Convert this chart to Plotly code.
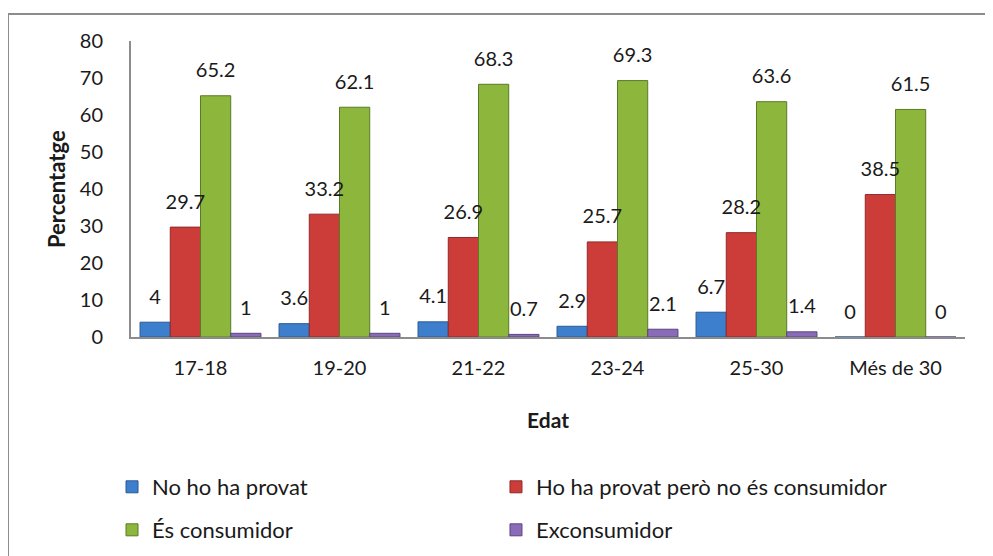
import plotly.graph_objects as go

edats = ["17-18", "19-20", "21-22", "23-24", "25-30", "Més de 30"]
no_provat = [4, 3.6, 4.1, 2.9, 6.7, 0]
provat_no_consumidor = [29.7, 33.2, 26.9, 25.7, 28.2, 38.5]
consumidor = [65.2, 62.1, 68.3, 69.3, 63.6, 61.5]
exconsumidor = [1, 1, 0.7, 2.1, 1.4, 0]

series = [
    ("No ho ha provat", no_provat, "#3d7fcc", "#2a5a94", "legend"),
    ("Ho ha provat però no és consumidor", provat_no_consumidor, "#cc3d3a", "#8f2a28", "legend2"),
    ("És consumidor", consumidor, "#8db63c", "#5c7a26", "legend3"),
    ("Exconsumidor", exconsumidor, "#8a6bb8", "#5a4580", "legend4"),
]

font = "Lato, Carlito, Calibri, sans-serif"

fig = go.Figure()
for name, vals, color, edge, leg in series:
    fig.add_trace(go.Bar(
        name=name, x=edats, y=vals,
        marker=dict(color=color, line=dict(color=edge, width=1)),
        legend=leg, showlegend=True,
    ))
# value labels, grouped the same way as the bars
for name, vals, color, edge, leg in series:
    fig.add_trace(go.Scatter(
        x=edats, y=vals, mode="markers+text",
        text=[f"{v:g}" for v in vals], textposition="top center",
        textfont=dict(size=20, color="#1a1a1a", family=font),
        marker=dict(size=20, opacity=0), cliponaxis=False,
        showlegend=False, hoverinfo="skip",
    ))

leg_font = dict(size=22, family=font, color="#1a1a1a")
leg_common = dict(xref="container", yref="container", xanchor="left",
                  yanchor="middle", font=leg_font, itemwidth=30)
fig.update_layout(
    width=985, height=548,
    barmode="group", bargap=0.13, bargroupgap=0,
    scattermode="group", scattergap=0.13,
    plot_bgcolor="white", paper_bgcolor="white",
    font=dict(family=font, size=17, color="#1a1a1a"),
    margin=dict(l=123, r=28, t=33, b=219, autoexpand=False),
    legend=dict(x=0.1056, y=0.1259, **leg_common),
    legend2=dict(x=0.4954, y=0.1259, **leg_common),
    legend3=dict(x=0.1056, y=0.0474, **leg_common),
    legend4=dict(x=0.4954, y=0.0474, **leg_common),
    showlegend=True,
)

fig.update_yaxes(
    range=[0, 80], dtick=10, showgrid=False, automargin=False,
    showline=True, linecolor="#8c8c8c", linewidth=2,
    ticks="outside", ticklen=22, tickcolor="rgba(0,0,0,0)",
    tickfont=dict(size=20),
)
fig.update_xaxes(
    showgrid=False, automargin=False,
    showline=True, linecolor="#8c8c8c", linewidth=2,
    ticks="outside", ticklen=12, tickcolor="rgba(0,0,0,0)",
    tickfont=dict(size=20),
    title=dict(text="<b>Edat</b>", font=dict(size=21), standoff=35),
)

# y axis title
fig.add_annotation(text="<b>Percentatge</b>", textangle=-90,
                   xref="paper", yref="paper", x=-0.0899, y=0.5,
                   xanchor="center", yanchor="middle", showarrow=False,
                   font=dict(size=22, family=font, color="#1a1a1a"))

# chart area frame (right and bottom edges fall outside the picture)
fig.add_shape(type="rect", xref="paper", yref="paper",
              x0=-0.1475, x1=1.08, y0=-0.85, y1=1.091,
              line=dict(color="#8c8c8c", width=2), layer="below")

fig.write_html("out.html")
